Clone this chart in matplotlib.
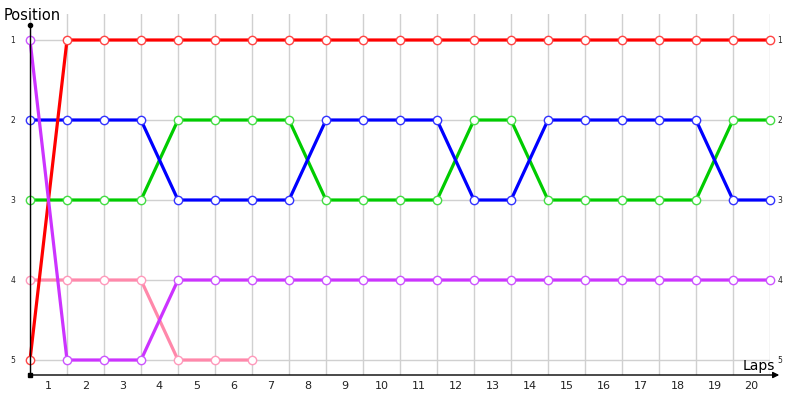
import numpy as np
import matplotlib
matplotlib.use("Agg")
import matplotlib.pyplot as plt

# positions after each lap (lap 0 = start grid)
laps = list(range(0, 21))
lap_labels = [str(i) for i in range(1, 21)]
positions = [1, 2, 3, 4, 5]

red = [5] + [1] * 20
purple = [1, 5, 5, 5] + [4] * 17
pink = [4, 4, 4, 4, 5, 5, 5]
blue = [2, 2, 2, 2, 3, 3, 3, 3, 2, 2, 2, 2, 3, 3, 2, 2, 2, 2, 2, 3, 3]
green = [3, 3, 3, 3, 2, 2, 2, 2, 3, 3, 3, 3, 2, 2, 3, 3, 3, 3, 3, 2, 2]

series = [
    (green, "#00cc00", "#44dd44"),
    (pink, "#ff88aa", "#ff99bb"),
    (blue, "#0000ff", "#3333ff"),
    (red, "#ff0000", "#ff4444"),
    (purple, "#cc33ff", "#cc55ff"),
]

fig = plt.figure(figsize=(8, 4), dpi=100)
ax = fig.add_axes([30 / 800, 1 - 375 / 400, 740 / 800, 361 / 400])
ax.set_xlim(0, 20)
ax.set_ylim(5.1875, 0.675)

# grid
for x in laps:
    ax.axvline(x, color="#d0d0d0", lw=1, zorder=0)
for y in positions:
    ax.axhline(y, color="#d0d0d0", lw=1, zorder=0)

for vals, col, mcol in series:
    ax.plot(laps[:len(vals)], vals, color=col, lw=2.3, zorder=2,
            solid_capstyle="round", clip_on=False)
for vals, col, mcol in series:
    ax.plot(laps[:len(vals)], vals, ls="none", marker="o", ms=6,
            mfc="white", mec=mcol, mew=1, zorder=3, clip_on=False)

for s in ax.spines.values():
    s.set_visible(False)
ax.set_xticks([])
ax.set_yticks([])

# axes lines
ax.plot([0, 0], [5.1875, 0.8125], color="black", lw=1, clip_on=False, zorder=4)
ax.plot([0], [0.8125], marker="o", ms=3, color="black", clip_on=False, zorder=4)
ax.plot([0], [5.1875], marker="s", ms=2.5, color="black", clip_on=False, zorder=4)
ax.annotate("", xy=(20.25, 5.1875), xytext=(0, 5.1875),
            arrowprops=dict(arrowstyle="-|>", color="black", lw=1,
                            mutation_scale=9, shrinkA=0, shrinkB=0),
            annotation_clip=False, zorder=4)

# tick labels
for i, lab in enumerate(lap_labels):
    ax.text(i + 0.5, 5.33, lab, ha="center", va="center", fontsize=8, color="#222222")
for p in positions:
    ax.text(-0.4, p, str(p), ha="right", va="center", fontsize=5.5, color="#222222")
    ax.text(20.2, p, str(p), ha="left", va="center", fontsize=5.5, color="#222222")

fig.text(4 / 800, 1 - 15 / 400, "Position", ha="left", va="center", fontsize=10.5)
fig.text(775 / 800, 1 - 366 / 400, "Laps", ha="right", va="center", fontsize=10)

fig.savefig("out.png", dpi=100)
